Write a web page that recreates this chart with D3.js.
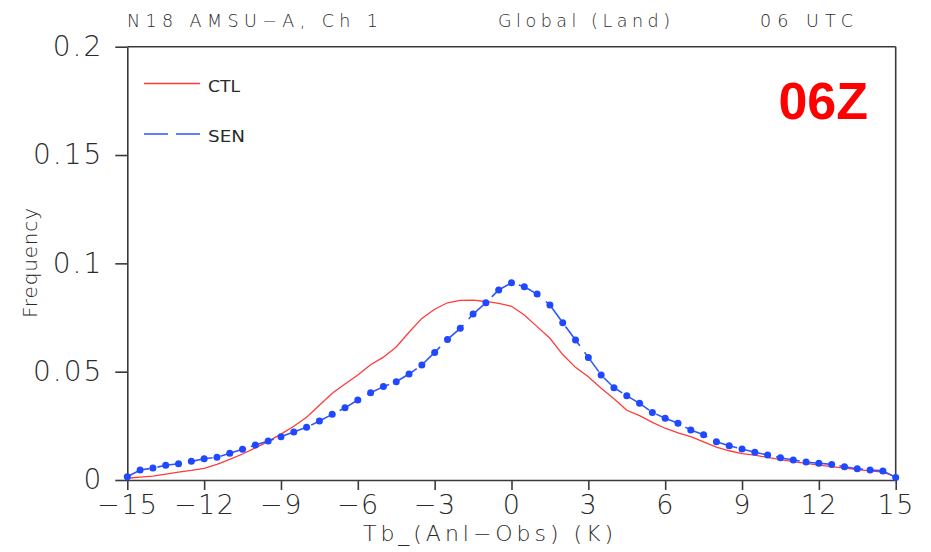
<!DOCTYPE html>
<html>
<head>
<meta charset="utf-8">
<script src="https://cdn.jsdelivr.net/npm/d3@7/dist/d3.min.js"></script>
<style>
  body { margin: 0; background: #fff; }
  svg text { font-family: "DejaVu Sans", "Liberation Sans", sans-serif; fill: #2a2a2a; }
</style>
</head>
<body>
<svg id="chart" width="931" height="552"></svg>
<script>
// Brightness-temperature departure bins (K), 0.5 K apart
const tbBins = [
  -15, -14.5, -14, -13.5, -13, -12.5, -12, -11.5, -11, -10.5,
  -10, -9.5, -9, -8.5, -8, -7.5, -7, -6.5, -6, -5.5,
  -5, -4.5, -4, -3.5, -3, -2.5, -2, -1.5, -1, -0.5,
  0, 0.5, 1, 1.5, 2, 2.5, 3, 3.5, 4, 4.5,
  5, 5.5, 6, 6.5, 7, 7.5, 8, 8.5, 9, 9.5,
  10, 10.5, 11, 11.5, 12, 12.5, 13, 13.5, 14, 14.5, 15
];

// Frequency of the control run
const ctlFreq = [
  0.0008, 0.0013, 0.0018, 0.0027, 0.0036, 0.0044, 0.0054, 0.0072, 0.0095, 0.0120,
  0.0148, 0.0178, 0.0212, 0.0248, 0.0290, 0.0345, 0.0400, 0.0443, 0.0485, 0.0532,
  0.0567, 0.0614, 0.0682, 0.0746, 0.0788, 0.0818, 0.0829, 0.0830, 0.0824, 0.0815,
  0.0802, 0.0762, 0.0708, 0.0654, 0.0579, 0.0520, 0.0477, 0.0424, 0.0375, 0.0322,
  0.0297, 0.0266, 0.0239, 0.0218, 0.0200, 0.0176, 0.0152, 0.0135, 0.0122, 0.0115,
  0.0104, 0.0094, 0.0085, 0.0077, 0.0069, 0.0062, 0.0055, 0.0048, 0.0042, 0.0036, 0.0015
];

// Frequency of the sensitivity run
const senFreq = [
  0.0015, 0.0046, 0.0055, 0.0068, 0.0075, 0.0086, 0.0098, 0.0105, 0.0123, 0.0142,
  0.0162, 0.0180, 0.0200, 0.0222, 0.0243, 0.0272, 0.0303, 0.0333, 0.0369, 0.0403,
  0.0431, 0.0454, 0.0489, 0.0531, 0.0589, 0.0649, 0.0700, 0.0766, 0.0818, 0.0877,
  0.0910, 0.0892, 0.0858, 0.0808, 0.0726, 0.0646, 0.0566, 0.0485, 0.0426, 0.0389,
  0.0354, 0.0312, 0.0285, 0.0262, 0.0231, 0.0209, 0.0177, 0.0158, 0.0143, 0.0128,
  0.0115, 0.0103, 0.0092, 0.0083, 0.0077, 0.0072, 0.0061, 0.0052, 0.0046, 0.0042, 0.0012
];

const xTicks = [-15, -12, -9, -6, -3, 0, 3, 6, 9, 12, 15];
const yTicks = [0, 0.05, 0.1, 0.15, 0.2];
const yTickLabels = ["0", "0.05", "0.1", "0.15", "0.2"];

const seriesNames = ["CTL", "SEN"];
const titleParts = ["N18 AMSU\u2212A, Ch 1", "Global (Land)", "06 UTC"];
const cycleTag = "06Z";
const xLabel = "Tb_(Anl\u2212Obs) (K)";
const yLabel = "Frequency";

const svg = d3.select("#chart");
const plot = { left: 127.3, right: 895.7, top: 46.7, bottom: 480 };

const x = d3.scaleLinear().domain([-15, 15]).range([plot.left, plot.right]);
const y = d3.scaleLinear().domain([0, 0.2]).range([plot.bottom, plot.top]);

const frameColor = "#3a3a3a";

// Frame: top and right edges
svg.append("line")
  .attr("x1", plot.left).attr("x2", plot.right)
  .attr("y1", plot.top).attr("y2", plot.top)
  .attr("stroke", frameColor).attr("stroke-width", 1.6);
svg.append("line")
  .attr("x1", plot.right).attr("x2", plot.right)
  .attr("y1", plot.top).attr("y2", plot.bottom)
  .attr("stroke", frameColor).attr("stroke-width", 1.6);

// Bottom axis
const xAxis = svg.append("g")
  .attr("transform", `translate(0,${plot.bottom})`)
  .call(d3.axisBottom(x).tickValues(xTicks).tickSize(10).tickSizeOuter(0)
    .tickFormat(d => d < 0 ? "\u2212" + Math.abs(d) : String(d)));
xAxis.select(".domain").attr("stroke", frameColor).attr("stroke-width", 1.6);
xAxis.selectAll(".tick line").attr("stroke", frameColor).attr("stroke-width", 1.6);
xAxis.selectAll(".tick text")
  .attr("y", 34).attr("dy", "0")
  .style("font-size", "27px").style("font-weight", "200")
  .style("letter-spacing", "1.5px")
  .attr("fill", "#2a2a2a");

// Left axis
const yAxis = svg.append("g")
  .attr("transform", `translate(${plot.left},0)`)
  .call(d3.axisLeft(y).tickValues(yTicks).tickSize(12).tickSizeOuter(0)
    .tickFormat((d, i) => yTickLabels[i]));
yAxis.select(".domain").attr("stroke", frameColor).attr("stroke-width", 1.6);
yAxis.selectAll(".tick line").attr("stroke", frameColor).attr("stroke-width", 1.6);
yAxis.selectAll(".tick text")
  .attr("x", -24)
  .style("font-size", "28px").style("font-weight", "200")
  .style("letter-spacing", "2px")
  .attr("fill", "#2a2a2a");

// Series lines
const line = d3.line()
  .x((d, i) => x(tbBins[i]))
  .y(d => y(d));

svg.append("path")
  .datum(ctlFreq)
  .attr("d", line)
  .attr("fill", "none")
  .attr("stroke", "#ff3b3b")
  .attr("stroke-width", 1.3);

svg.append("path")
  .datum(senFreq)
  .attr("d", line)
  .attr("fill", "none")
  .attr("stroke", "#2e55ff")
  .attr("stroke-width", 1.6)
  .attr("stroke-dasharray", "24 8");

svg.append("g").selectAll("circle")
  .data(senFreq)
  .join("circle")
  .attr("cx", (d, i) => x(tbBins[i]))
  .attr("cy", d => y(d))
  .attr("r", 3.5)
  .attr("fill", "#1f48ff");

// Legend
const legend = svg.append("g");
const legendRows = [
  { name: seriesNames[0], y: 83.5, color: "#ff3b3b", dash: null, w: 1.3 },
  { name: seriesNames[1], y: 134, color: "#2e55ff", dash: "24 8", w: 1.6 }
];
legendRows.forEach(r => {
  legend.append("line")
    .attr("x1", 144).attr("x2", 200)
    .attr("y1", r.y).attr("y2", r.y)
    .attr("stroke", r.color).attr("stroke-width", r.w)
    .attr("stroke-dasharray", r.dash);
  legend.append("text")
    .attr("x", 208).attr("y", r.y + 8)
    .attr("textLength", r.name === "CTL" ? 32 : 37)
    .attr("lengthAdjust", "spacingAndGlyphs")
    .style("font-size", "15px")
    .text(r.name);
});

// Titles above the frame
const titleX = [127, 498, 760];
const titleW = [251, 172, 93];
titleParts.forEach((t, i) => {
  svg.append("text")
    .attr("x", titleX[i]).attr("y", 26.5)
    .attr("textLength", titleW[i])
    .attr("lengthAdjust", "spacing")
    .style("font-size", "17.5px")
    .style("font-weight", "200")
    .text(t);
});

// Cycle tag
svg.append("text")
  .attr("x", 868).attr("y", 119)
  .attr("text-anchor", "end")
  .style("font-family", "'Liberation Sans', Arial, sans-serif")
  .style("font-size", "52px")
  .style("font-weight", "bold")
  .style("fill", "#ff0000")
  .text(cycleTag);

// Axis titles
svg.append("text")
  .attr("x", 363).attr("y", 541)
  .attr("textLength", 250)
  .attr("lengthAdjust", "spacing")
  .style("font-size", "22px")
  .style("font-weight", "200")
  .text(xLabel);

svg.append("text")
  .attr("transform", "translate(37,318) rotate(-90)")
  .attr("textLength", 110)
  .attr("lengthAdjust", "spacing")
  .style("font-size", "20px")
  .style("font-weight", "200")
  .text(yLabel);
</script>
</body>
</html>
